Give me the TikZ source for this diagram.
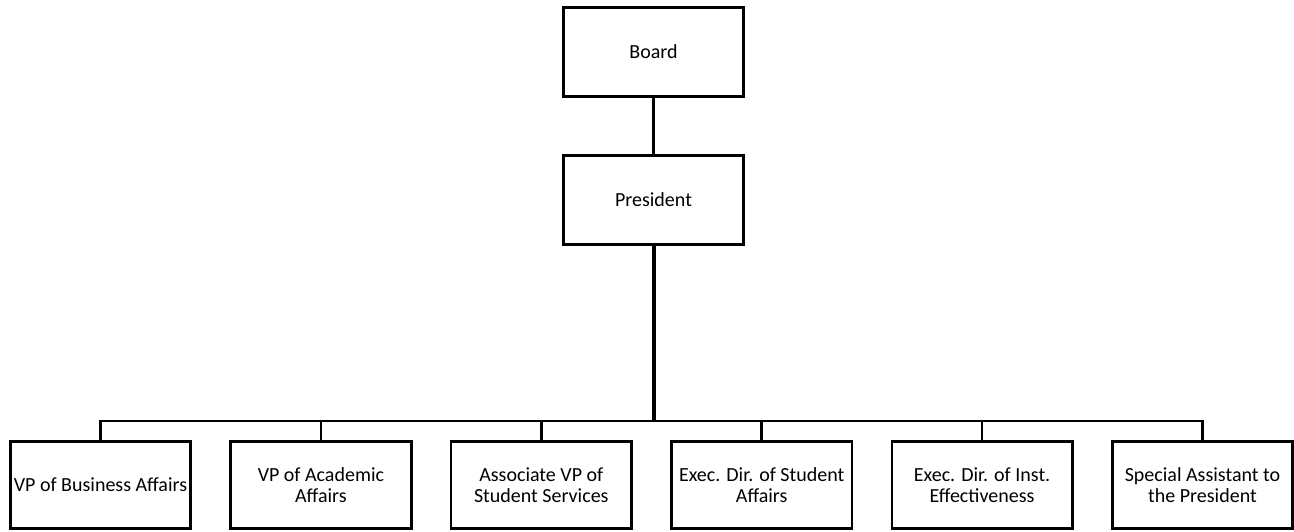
\documentclass[tikz,border=0pt]{standalone}
\usepackage{fontspec}
\setmainfont{Carlito}
\usetikzlibrary{positioning}

\begin{document}
\begin{tikzpicture} [x=1pt, y=1pt, line width=2.6pt,
        main/.style = {draw, rectangle, line width=2.7pt, minimum width=180.5pt, minimum height=89.3pt, inner sep=1pt, align=center, font=\fontsize{20}{21.5}\selectfont},
        sub/.style = {main, minimum height=87.3pt}]
        \useasboundingbox (0,0) rectangle (1294,-532);

        %Nodes
        \node[main] (brd) at (653.5,-52) {Board};
        \node[main] (prs) [below = 56pt of brd] {President};

        \node[sub] (d1) at (100.5,-485) {VP of Business Affairs};
        \node[sub] (d2) [right = 37.2pt of d1] {VP of Academic\\Affairs};
        \node[sub] (d3) [right = 37.2pt of d2] {Associate VP of\\Student Services};
        \node[sub] (d4) [right = 37.2pt of d3] {Exec. Dir. of Student\\Affairs};
        \node[sub] (d5) [right = 37.2pt of d4] {Exec. Dir. of Inst.\\Effectiveness};
        \node[sub] (d6) [right = 37.2pt of d5] {Special Assistant to\\the President};

        \coordinate (bus) at (prs |- 0,-421);

        %Edges
        \draw (brd) -- (prs);
        \draw[line width=4pt] (prs) -- (bus);

        \draw[line join=miter] (d1) -- (d1.north |- bus) -- (d6.north |- bus) -- (d6);
        \foreach \i in {2,...,5}
            \draw (d\i.north |- bus) -- (d\i);

    \end{tikzpicture}
\end{document}
